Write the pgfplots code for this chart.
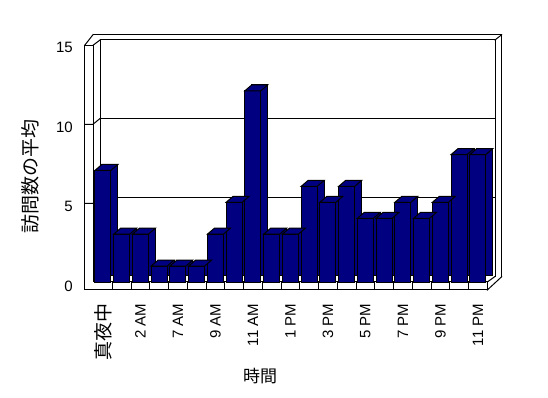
\documentclass[border=0pt]{standalone}
\usepackage{fontspec}
\setmainfont{Liberation Sans}
\newfontfamily\jp{Noto Sans CJK JP}
\usepackage{pgfplots}
\pgfplotsset{compat=1.18}
\definecolor{navyc}{RGB}{0,0,128}
\pgfdeclareplotmark{topface}{%
  \pgfpathmoveto{\pgfpoint{-8bp}{0bp}}%
  \pgfpathlineto{\pgfpoint{8bp}{0bp}}%
  \pgfpathlineto{\pgfpoint{15bp}{6bp}}%
  \pgfpathlineto{\pgfpoint{-1bp}{6bp}}%
  \pgfpathclose
  \pgfusepathqfillstroke}
\pgfplotstableread{
x y
0 7
1 3
2 3
3 1
4 1
5 1
6 3
7 5
8 12
9 3
10 3
11 6
12 5
13 6
14 4
15 4
16 5
17 4
18 5
19 8
20 8
}\visits
\begin{document}
\begin{tikzpicture}[line width=1bp, line cap=rect]
\useasboundingbox (0,0) rectangle (548bp,398bp);
\fill[white] (0,0) rectangle (548bp,398bp);
% back wall inner face
\draw (100bp,121.5bp) -- (100bp,358bp) -- (495bp,358bp) -- (495bp,121.5bp);
\draw (100bp,279.5bp) -- (495bp,279.5bp);
\draw (100bp,200.5bp) -- (495bp,200.5bp);
% back wall outer
\draw (93bp,363.3bp) -- (501.7bp,363.3bp) -- (501.7bp,121.3bp);
\draw (495bp,358bp) -- (501.7bp,363.3bp);
% left wall
\draw (84.7bp,108bp) -- (84.7bp,352.7bp) -- (93bp,352.7bp) -- (93bp,116bp);
\draw (84.7bp,352.7bp) -- (93bp,363.3bp);
\draw (93bp,352.7bp) -- (100bp,358bp);
\draw (84.7bp,273.7bp) -- (93bp,273.7bp) -- (100bp,279.5bp);
\draw (84.7bp,194.7bp) -- (93bp,194.7bp) -- (100bp,200.5bp);
% floor
\draw (93bp,116bp) -- (487.3bp,116bp) -- (487.3bp,108bp) -- (84.7bp,108bp);
\foreach \k in {0,...,19} {
  \draw ({112.3bp+18.75bp*\k},116bp) -- ({112.3bp+18.75bp*\k},108bp);
}
\draw (487.3bp,116bp) -- (495bp,121.5bp);
\draw (487.3bp,108bp) -- (501.7bp,121.3bp);
\begin{axis}[
  at={(93.5bp,116bp)}, anchor=south west,
  scale only axis, width=393.75bp, height=239bp,
  xmin=-0.5, xmax=20.5, ymin=0, ymax=15,
  clip=false,
  axis line style={draw=none},
  major tick length=0pt,
  tick style={draw=none},
  ytick={0,5,10,15},
  xtick={0,2,...,20},
  xticklabels={{\jp\fontsize{19bp}{20bp}\selectfont 真夜中},2 AM,7 AM,9 AM,11 AM,1 PM,3 PM,5 PM,7 PM,9 PM,11 PM},
  /pgf/number format/assume math mode=true,
  ticklabel style={font=\fontsize{15bp}{18bp}\selectfont},
  yticklabel style={anchor=east, inner sep=0pt, xshift=-20.5bp, yshift=-4.5bp},
  xticklabel style={yshift=-21.7bp, rotate=90, anchor=east, inner sep=0pt},
  xlabel={時間},
  ylabel={訪問数の平均},
  xlabel style={at={(rel axis cs:0.4229,-0.393)}, anchor=center, inner sep=0pt, font=\jp\fontsize{17bp}{18bp}\selectfont},
  ylabel style={at={(rel axis cs:-0.1613,0.4414)}, anchor=center, inner sep=0pt, font=\jp\fontsize{19bp}{20bp}\selectfont},
]
\addplot[ybar, bar width=16bp, bar shift=7bp, yshift=6bp, fill=navyc, draw=black, line width=1bp] table[x=x,y=y] {\visits};
\addplot[only marks, mark=topface, mark options={fill=navyc, draw=black, line width=1bp}] table[x=x,y=y] {\visits};
\addplot[ybar, bar width=16bp, bar shift=0bp, fill=navyc, draw=black, line width=1bp] table[x=x,y=y] {\visits};
\end{axis}
\end{tikzpicture}
\end{document}
